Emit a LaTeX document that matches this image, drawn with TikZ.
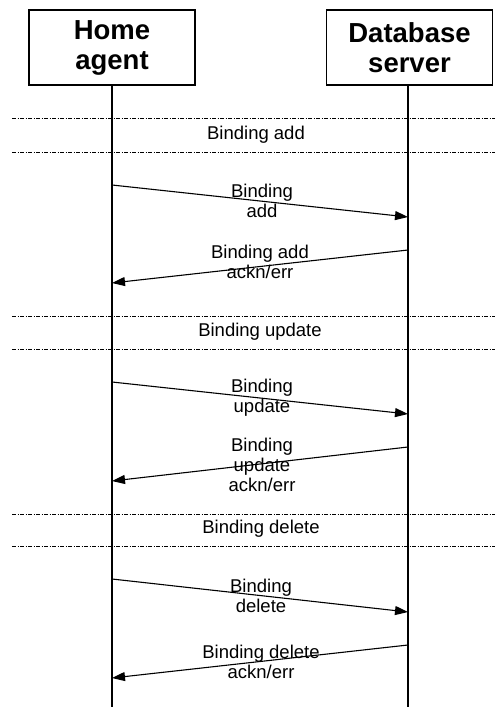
\documentclass[tikz,border=0pt]{standalone}
\usepackage{fontspec}
\setmainfont{Liberation Sans}
\usetikzlibrary{arrows.meta}
\tikzset{
  entity/.style={draw, line width=1.1pt, minimum width=166pt, minimum height=75pt,
    align=center, font=\fontsize{27.5}{30}\selectfont\bfseries, inner sep=0pt},
  lifeline/.style={line width=1.2pt},
  phase/.style={line width=1pt, dash pattern=on 4pt off 1.5pt on 1pt off 1.5pt},
  phaselabel/.style={font=\fontsize{18.5}{20}\selectfont, inner sep=0pt},
  msg/.style={line width=1.1pt, -{Triangle[length=13pt,width=9pt]}},
  msglabel/.style={font=\fontsize{18.5}{20}\selectfont, align=center, inner sep=0pt}
}
\begin{document}
\begin{tikzpicture}[x=1pt, y=-1pt]
  \useasboundingbox (0,0) rectangle (495,707);

  % participants
  \node[entity] (ha) at (112,47.5) {Home\\agent};
  \node[entity] (db) at (409.5,47.5) {Database\\server};

  % lifelines
  \coordinate (haEnd) at (112,707);
  \coordinate (dbEnd) at (408,707);
  \draw[lifeline] (112,85) -- (haEnd);
  \draw[lifeline] (408,85) -- (dbEnd);

  % phase separators
  \foreach \n/\ya/\yb in {1/118/152, 2/316/349, 3/514/546} {
    \coordinate (p\n aL) at (12,\ya);  \coordinate (p\n aR) at (495,\ya);
    \coordinate (p\n bL) at (12,\yb);  \coordinate (p\n bR) at (495,\yb);
    \draw[phase] (p\n aL) -- (p\n aR);
    \draw[phase] (p\n bL) -- (p\n bR);
  }
  \node[phaselabel] (phAdd) at (256,135) {Binding add};
  \node[phaselabel] (phUpd) at (260,332) {Binding update};
  \node[phaselabel] (phDel) at (261,529) {Binding delete};

  % message end points on the lifelines
  \coordinate (m1s) at (112,185); \coordinate (m1e) at (408,217);
  \coordinate (m2s) at (408,250); \coordinate (m2e) at (112,283);
  \coordinate (m3s) at (112,382); \coordinate (m3e) at (408,414);
  \coordinate (m4s) at (408,447); \coordinate (m4e) at (112,481);
  \coordinate (m5s) at (112,579); \coordinate (m5e) at (408,612);
  \coordinate (m6s) at (408,645); \coordinate (m6e) at (112,678);

  % messages
  \draw[msg] (m1s) -- (m1e);
  \draw[msg] (m2s) -- (m2e);
  \draw[msg] (m3s) -- (m3e);
  \draw[msg] (m4s) -- (m4e);
  \draw[msg] (m5s) -- (m5e);
  \draw[msg] (m6s) -- (m6e);

  \node[msglabel] (l1) at (262,201) {Binding\\add};
  \node[msglabel] (l2) at (260,262) {Binding add\\ackn/err};
  \node[msglabel] (l3) at (262,398) {Binding\\update};
  \node[msglabel] (l4) at (262,465) {Binding\\update\\ackn/err};
  \node[msglabel] (l5) at (261,596) {Binding\\delete};
  \node[msglabel] (l6) at (261,662) {Binding delete\\ackn/err};
\end{tikzpicture}
\end{document}
